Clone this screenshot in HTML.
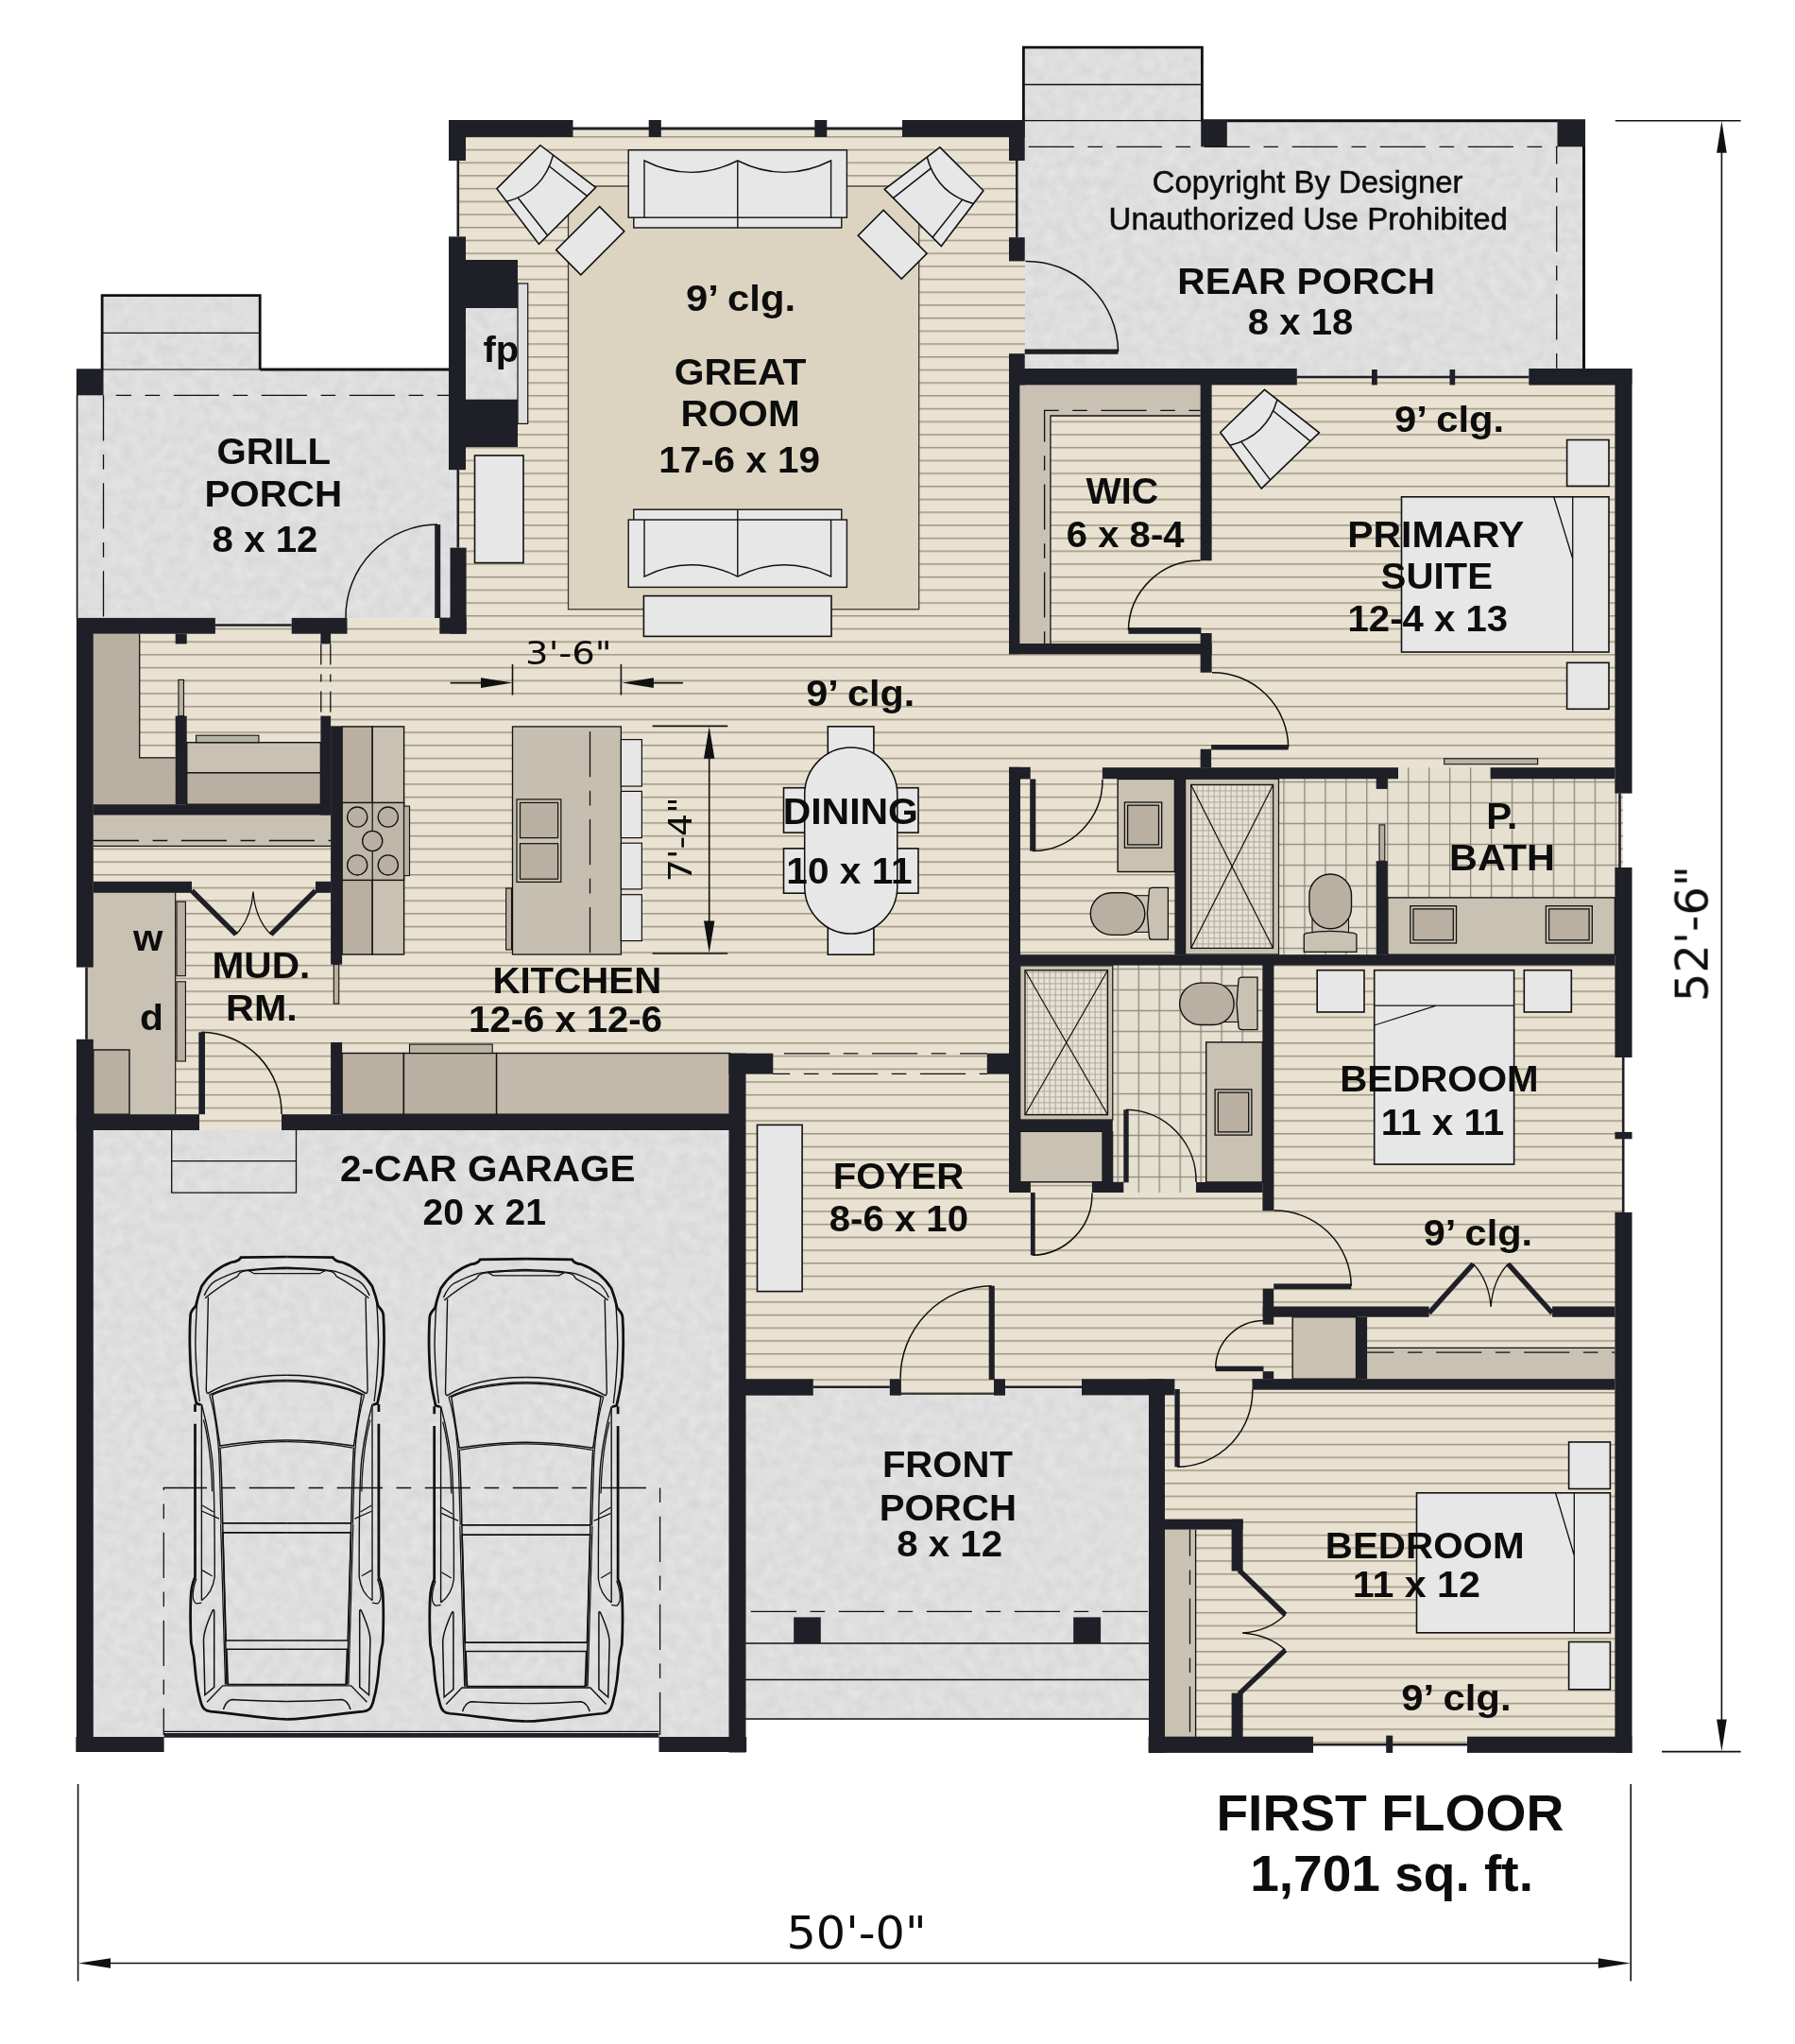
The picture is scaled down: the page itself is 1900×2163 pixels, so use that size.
<!DOCTYPE html>
<html lang="en"><head><meta charset="utf-8"><title>First Floor Plan</title>
<style>
html,body{margin:0;padding:0;background:#fff}
body{width:1900px;height:2163px;overflow:hidden;font-family:"Liberation Sans",sans-serif}
svg{display:block}
</style></head><body>
<svg width="1900" height="2163" viewBox="0 0 1900 2163">
<defs>
<pattern id="wood" x="0" y="7.073" width="40" height="13.7006" patternUnits="userSpaceOnUse">
<rect width="40" height="13.8" fill="#e9e2d2"/><rect y="0" width="40" height="1.5" fill="#9f957f"/></pattern>
<pattern id="tile" x="1358.3" y="826.8" width="21.96" height="22" patternUnits="userSpaceOnUse">
<rect width="22" height="22" fill="#e6e0d1"/><rect width="1.3" height="22" fill="#8d8779"/><rect width="22" height="1.3" fill="#8d8779"/></pattern>
<pattern id="mini" x="1260.7" y="830.4" width="6" height="6" patternUnits="userSpaceOnUse">
<rect width="6" height="6" fill="#e7e1d3"/><rect width="0.9" height="6" fill="#a9a395"/><rect width="6" height="0.9" fill="#a9a395"/></pattern>
<filter id="mottle" x="0" y="0" width="100%" height="100%" color-interpolation-filters="sRGB"><feTurbulence type="fractalNoise" baseFrequency="0.085" numOctaves="2" seed="7" result="n"/><feColorMatrix in="n" type="matrix" values="0.075 0 0 0 0.833  0.075 0 0 0 0.833  0.075 0 0 0 0.835  0 0 0 0 1" result="m"/><feComposite in="m" in2="SourceGraphic" operator="in"/></filter>
</defs>
<rect x="0" y="0" width="1900" height="2163" fill="#ffffff"/>
<rect x="81" y="390.5" width="403" height="264" fill="#dedede" filter="url(#mottle)"/>
<rect x="108" y="313" width="167" height="79" fill="#dedede" filter="url(#mottle)"/>
<rect x="1076" y="127" width="601" height="264" fill="#dedede" filter="url(#mottle)"/>
<rect x="1083.5" y="50.5" width="189" height="77.5" fill="#dedede" filter="url(#mottle)"/>
<rect x="98" y="1195" width="675" height="643.5" fill="#dedede" filter="url(#mottle)"/>
<rect x="788" y="1475" width="429" height="344.5" fill="#dedede" filter="url(#mottle)"/>
<rect x="493" y="325" width="55" height="99" fill="#dedede" filter="url(#mottle)"/>
<rect x="485" y="136" width="600" height="564" fill="url(#wood)"/>
<rect x="1076.5" y="170" width="8.5" height="81" fill="#dedede" filter="url(#mottle)"/>
<rect x="91" y="661" width="985" height="535" fill="url(#wood)"/>
<rect x="1068" y="398" width="650" height="632" fill="url(#wood)"/>
<rect x="789" y="1100" width="929" height="370" fill="url(#wood)"/>
<rect x="1336" y="1020" width="382" height="81" fill="url(#wood)"/>
<rect x="367.5" y="654.5" width="98.5" height="7.5" fill="url(#wood)"/>
<rect x="227.9" y="654" width="80.8" height="7.5" fill="#dedede" filter="url(#mottle)"/>
<rect x="1225" y="1460" width="493" height="387" fill="url(#wood)"/>
<rect x="953" y="1459" width="100" height="16.5" fill="url(#wood)"/>
<rect x="98" y="1196" width="674" height="4" fill="#dedede" filter="url(#mottle)"/>
<rect x="493" y="325" width="55" height="99" fill="#dedede" filter="url(#mottle)"/>
<rect x="1372.8" y="389" width="245.5" height="10" fill="#dedede" filter="url(#mottle)"/>
<rect x="860.8" y="1467.8" width="81" height="9.2" fill="#dedede" filter="url(#mottle)"/>
<rect x="1064" y="1467.8" width="81" height="9.2" fill="#dedede" filter="url(#mottle)"/>
<rect x="476" y="497" width="8.8" height="82.6" fill="#dedede" filter="url(#mottle)"/>
<rect x="601.5" y="197" width="371.2" height="447.8" fill="#dcd4c1" stroke="#3a372f" stroke-width="1.3"/>
<rect x="1353.5" y="824" width="361" height="186.5" fill="url(#tile)"/>
<rect x="1177.8" y="1021.5" width="158.8" height="240.5" fill="url(#tile)"/>
<rect x="1480" y="812.2" width="97.6" height="12.8" fill="url(#tile)"/>
<rect x="1254.6" y="824.2" width="98.9" height="185.8" fill="#c9c1b2" stroke="#111" stroke-width="1.2"/>
<rect x="1260.7" y="830.4" width="86.9" height="173" fill="url(#mini)" stroke="#111" stroke-width="1.3"/>
<line x1="1260.7" y1="830.4" x2="1347.6" y2="1003.4" stroke="#111" stroke-width="1.2"/>
<line x1="1260.7" y1="1003.4" x2="1347.6" y2="830.4" stroke="#111" stroke-width="1.2"/>
<rect x="1079.7" y="1021.9" width="98.1" height="163.1" fill="#c9c1b2" stroke="#111" stroke-width="1.2"/>
<rect x="1085" y="1026.7" width="87.5" height="153" fill="url(#mini)" stroke="#111" stroke-width="1.3"/>
<line x1="1085" y1="1026.7" x2="1172.5" y2="1179.7" stroke="#111" stroke-width="1.2"/>
<line x1="1085" y1="1179.7" x2="1172.5" y2="1026.7" stroke="#111" stroke-width="1.2"/>
<path d="M1079.4,407.4H1270.6V440H1112V681H1079.4Z" fill="#c9c1b2"/>
<path d="M1270.6,440H1112V681" fill="none" stroke="#111" stroke-width="1.3"/>
<path d="M1270.6,434.4H1105.6V681" fill="none" stroke="#111" stroke-width="1.3" stroke-dasharray="48.2 14.6 15.6 14.6" stroke-dashoffset="36"/>
<path d="M98.8,670.7H147.7V801.8H185.7V851.2H98.8Z" fill="#b9b0a1"/>
<path d="M147.7,670.7V801.8H185.7" fill="none" stroke="#111" stroke-width="1.3"/>
<rect x="188.9" y="719.4" width="5.6" height="38.2" fill="#b9b0a1" stroke="#111" stroke-width="1.1"/>
<rect x="197.7" y="785.7" width="141.7" height="32.1" fill="#c9c1b2" stroke="#111" stroke-width="1.4"/>
<rect x="197.7" y="817.8" width="141.7" height="33.4" fill="#b9b0a1" stroke="#111" stroke-width="1.4"/>
<rect x="207.6" y="778.2" width="66.3" height="7.5" fill="#b6b4a2" stroke="#111" stroke-width="1.1"/>
<rect x="98.8" y="862.5" width="251.3" height="32.8" fill="#c9c1b2"/>
<line x1="98.8" y1="895.3" x2="350.1" y2="895.3" stroke="#111" stroke-width="1.3"/>
<line x1="98.8" y1="889.5" x2="350.1" y2="889.5" stroke="#111" stroke-width="1.3" stroke-dasharray="48.2 14.6 15.6 14.6"/>
<rect x="91.5" y="944.8" width="94.2" height="234.4" fill="#c9c1b2"/>
<line x1="185.7" y1="944.8" x2="185.7" y2="1179.2" stroke="#111" stroke-width="1.2"/>
<rect x="98.8" y="1111" width="38.2" height="68.2" fill="#b9b0a1" stroke="#111" stroke-width="1.4"/>
<rect x="187" y="954.2" width="9.4" height="78.5" fill="#b9b0a1" stroke="#111" stroke-width="1.1"/>
<rect x="187" y="1038.8" width="9.4" height="84.2" fill="#b9b0a1" stroke="#111" stroke-width="1.1"/>
<rect x="362.1" y="768.9" width="32.1" height="241.1" fill="#b9b0a1" stroke="#111" stroke-width="1.4"/>
<rect x="394.2" y="768.9" width="33.4" height="241.1" fill="#c9c1b2" stroke="#111" stroke-width="1.4"/>
<rect x="362.1" y="849.4" width="65.5" height="82" fill="#bfb7a7" stroke="#111" stroke-width="1.4"/>
<line x1="394.2" y1="849.4" x2="394.2" y2="931.4" stroke="#111" stroke-width="1.2"/>
<rect x="427.6" y="853.1" width="5.9" height="73.5" fill="#b9b0a1" stroke="#111" stroke-width="1.1"/>
<circle cx="378.2" cy="864.6" r="10.6" fill="#b9b0a1" stroke="#111" stroke-width="1.3"/>
<circle cx="410.8" cy="864.6" r="10.6" fill="#b9b0a1" stroke="#111" stroke-width="1.3"/>
<circle cx="394.2" cy="890" r="10.6" fill="#b9b0a1" stroke="#111" stroke-width="1.3"/>
<circle cx="378.2" cy="915.4" r="10.6" fill="#b9b0a1" stroke="#111" stroke-width="1.3"/>
<circle cx="410.8" cy="915.4" r="10.6" fill="#b9b0a1" stroke="#111" stroke-width="1.3"/>
<rect x="542.5" y="768.9" width="114.9" height="241.1" fill="#c6beaf" stroke="#111" stroke-width="1.3"/>
<line x1="624.5" y1="774" x2="624.5" y2="1010" stroke="#111" stroke-width="1.3" stroke-dasharray="48.2 14.6 15.6 14.6"/>
<rect x="547" y="845.9" width="46.8" height="87.5" fill="#c9c1b2" stroke="#111" stroke-width="1.2"/>
<rect x="550.5" y="849.4" width="40.1" height="37.2" fill="#b9b0a1" stroke="#111" stroke-width="1.2"/>
<rect x="550.5" y="892.7" width="40.1" height="37.5" fill="#b9b0a1" stroke="#111" stroke-width="1.2"/>
<rect x="535.6" y="940" width="5.9" height="65" fill="#b9b0a1" stroke="#111" stroke-width="1.1"/>
<rect x="657.4" y="782.6" width="22" height="49.4" fill="#e7e7e7" stroke="#111" stroke-width="1.2"/>
<rect x="657.4" y="837.4" width="22" height="49.2" fill="#e7e7e7" stroke="#111" stroke-width="1.2"/>
<rect x="657.4" y="892.2" width="22" height="48.7" fill="#e7e7e7" stroke="#111" stroke-width="1.2"/>
<rect x="657.4" y="946.7" width="22" height="48.9" fill="#e7e7e7" stroke="#111" stroke-width="1.2"/>
<rect x="362.1" y="1114.5" width="65.3" height="64.7" fill="#b9b0a1" stroke="#111" stroke-width="1.4"/>
<rect x="427.4" y="1114.5" width="98.2" height="64.7" fill="#b9b0a1" stroke="#111" stroke-width="1.4"/>
<rect x="525.6" y="1114.5" width="247" height="64.7" fill="#c2b9aa" stroke="#111" stroke-width="1.4"/>
<rect x="433.5" y="1105.1" width="87.7" height="9.4" fill="#b8b5a2" stroke="#111" stroke-width="1.1"/>
<rect x="353.3" y="1020.6" width="5.4" height="41.5" fill="#b9b0a1" stroke="#111" stroke-width="1.1"/>
<rect x="1183.2" y="824.4" width="60.2" height="98.1" fill="#c9c1b2" stroke="#111" stroke-width="1.4"/>
<rect x="1190.4" y="849" width="39.3" height="48.1" fill="#c9c1b2" stroke="#111" stroke-width="1.3"/>
<rect x="1193.6" y="852.2" width="32.9" height="41.7" fill="#b9b0a1" stroke="#111" stroke-width="1.3"/>
<rect x="1199.8" y="947.7" width="18.6" height="38.7" fill="#c9c1b2" stroke="#111" stroke-width="1.1"/>
<rect x="1154.3" y="944.7" width="57.5" height="44.7" rx="22.35" ry="22.35" fill="#b9b0a1" stroke="#111" stroke-width="1.4"/>
<path d="M1216.4,942.4Q1216.4,939.4 1220.4,939.4H1236.4V994.2H1220.4Q1216.4,994.2 1216.4,991.2L1214.4,966.8Z" fill="#c9c1b2" stroke="#111" stroke-width="1.3"/>
<rect x="1294.1" y="1043.1" width="18.9" height="38.4" fill="#c9c1b2" stroke="#111" stroke-width="1.1"/>
<rect x="1248.7" y="1040.1" width="57.4" height="44.4" rx="22.2" ry="22.2" fill="#b9b0a1" stroke="#111" stroke-width="1.4"/>
<path d="M1311,1037.2Q1311,1034.2 1315,1034.2H1331V1089.6H1315Q1311,1089.6 1311,1086.6L1309,1061.9Z" fill="#c9c1b2" stroke="#111" stroke-width="1.3"/>
<rect x="1389" y="972" width="38.5" height="18" fill="#c9c1b2" stroke="#111" stroke-width="1.1"/>
<rect x="1385.9" y="925" width="44.6" height="57.8" rx="22.3" ry="22.3" fill="#b9b0a1" stroke="#111" stroke-width="1.4"/>
<path d="M1383.3,987.3Q1408,983.5 1432.9,987.3L1435.9,989V1007.4H1380.3V989Z" fill="#c9c1b2" stroke="#111" stroke-width="1.3"/>
<rect x="1468.8" y="949.9" width="240.6" height="60.3" fill="#c9c1b2" stroke="#111" stroke-width="1.4"/>
<rect x="1492.8" y="958.7" width="48.7" height="39.3" fill="#c9c1b2" stroke="#111" stroke-width="1.3"/>
<rect x="1496" y="961.9" width="42.3" height="32.9" fill="#b9b0a1" stroke="#111" stroke-width="1.3"/>
<rect x="1636.4" y="958.7" width="48.9" height="39.3" fill="#c9c1b2" stroke="#111" stroke-width="1.3"/>
<rect x="1639.6" y="961.9" width="42.5" height="32.9" fill="#b9b0a1" stroke="#111" stroke-width="1.3"/>
<rect x="1528.7" y="802.8" width="98.9" height="5.9" fill="#b8b4a3" stroke="#111" stroke-width="1.1"/>
<rect x="1460" y="872.9" width="5.8" height="38.2" fill="#b9b0a1" stroke="#111" stroke-width="1.1"/>
<rect x="1276.7" y="1102.9" width="59.7" height="148.1" fill="#c9c1b2" stroke="#111" stroke-width="1.4"/>
<rect x="1286.1" y="1152.9" width="38.8" height="48.2" fill="#c9c1b2" stroke="#111" stroke-width="1.3"/>
<rect x="1289.3" y="1156.1" width="32.4" height="41.8" fill="#b9b0a1" stroke="#111" stroke-width="1.3"/>
<rect x="1079.7" y="1197.3" width="87.4" height="53.5" fill="#c9c1b2" stroke="#111" stroke-width="1.4"/>
<rect x="1368.2" y="1393.7" width="67.4" height="65.5" fill="#c9c1b2" stroke="#111" stroke-width="1.4"/>
<rect x="1447.1" y="1426.3" width="262.3" height="32.9" fill="#c9c1b2"/>
<line x1="1447.1" y1="1426.3" x2="1709.4" y2="1426.3" stroke="#111" stroke-width="1.3"/>
<line x1="1447.1" y1="1431.1" x2="1709.4" y2="1431.1" stroke="#111" stroke-width="1.3" stroke-dasharray="48.2 14.6 15.6 14.6" stroke-dashoffset="20"/>
<rect x="1232.7" y="1618.6" width="32.9" height="219.4" fill="#c9c1b2"/>
<line x1="1265.6" y1="1618.6" x2="1265.6" y2="1838" stroke="#111" stroke-width="1.3"/>
<line x1="1259.5" y1="1618.6" x2="1259.5" y2="1838" stroke="#111" stroke-width="1.3" stroke-dasharray="48.2 14.6 15.6 14.6" stroke-dashoffset="20"/>
<g transform="translate(780.8,158.8)">
<rect x="-110" y="60" width="220" height="22.2" fill="#e7e7e7" stroke="#111" stroke-width="1.4"/>
<rect x="-115.6" y="0" width="231.2" height="71.4" fill="#e7e7e7" stroke="#111" stroke-width="1.4"/>
<path d="M-98.8,71.4V11.2Q-49.5,36 0,11.2Q49.5,36 98.8,11.2V71.4" fill="none" stroke="#111" stroke-width="1.4"/>
<path d="M0,11.2V82.2" fill="none" stroke="#111" stroke-width="1.4"/>
</g>
<g transform="translate(780.8,621.4) scale(1,-1)">
<rect x="-110" y="60" width="220" height="22.2" fill="#e7e7e7" stroke="#111" stroke-width="1.4"/>
<rect x="-115.6" y="0" width="231.2" height="71.4" fill="#e7e7e7" stroke="#111" stroke-width="1.4"/>
<path d="M-98.8,71.4V11.2Q-49.5,36 0,11.2Q49.5,36 98.8,11.2V71.4" fill="none" stroke="#111" stroke-width="1.4"/>
<path d="M0,11.2V82.2" fill="none" stroke="#111" stroke-width="1.4"/>
</g>
<rect x="681.4" y="630.6" width="198.6" height="42.8" fill="#e7e7e7" stroke="#111" stroke-width="1.6"/>
<rect x="502.5" y="482" width="51.5" height="113.6" fill="#e7e7e7" stroke="#111" stroke-width="1.6"/>
<rect x="548" y="300" width="10.7" height="148.4" fill="#dedede" stroke="#111" stroke-width="1.2"/>
<g transform="translate(548.9,176.7) rotate(-45)">
<polygon points="-32.5,0 32.5,0 42.5,73 -42.5,73" fill="#e7e7e7" stroke="#111" stroke-width="1.6"/>
<path d="M-34.8,17Q0,37 34.8,17" fill="none" stroke="#111" stroke-width="1.5"/>
<path d="M-23.5,22.5L-29.5,73M23.5,22.5L29.5,73" fill="none" stroke="#111" stroke-width="1.5"/>
</g>
<g transform="translate(624.7,254.7) rotate(45)">
<rect x="-18.5" y="-32.5" width="37" height="65" fill="#e7e7e7" stroke="#111" stroke-width="1.6"/>
</g>
<g transform="translate(1017.9,178.8) rotate(45)">
<polygon points="-32.5,0 32.5,0 42.5,73 -42.5,73" fill="#e7e7e7" stroke="#111" stroke-width="1.6"/>
<path d="M-34.8,17Q0,37 34.8,17" fill="none" stroke="#111" stroke-width="1.5"/>
<path d="M-23.5,22.5L-29.5,73M23.5,22.5L29.5,73" fill="none" stroke="#111" stroke-width="1.5"/>
</g>
<g transform="translate(944.7,258.7) rotate(45)">
<rect x="-32.5" y="-19" width="65" height="38" fill="#e7e7e7" stroke="#111" stroke-width="1.6"/>
</g>
<g transform="translate(1315.1,434.9) rotate(-44)">
<polygon points="-32.5,0 32.5,0 42.5,73 -42.5,73" fill="#e7e7e7" stroke="#111" stroke-width="1.6"/>
<path d="M-34.8,17Q0,37 34.8,17" fill="none" stroke="#111" stroke-width="1.5"/>
<path d="M-23.5,22.5L-29.5,73M23.5,22.5L29.5,73" fill="none" stroke="#111" stroke-width="1.5"/>
</g>
<rect x="1658.6" y="465.5" width="44.4" height="48.9" fill="#e7e7e7" stroke="#111" stroke-width="1.6"/>
<rect x="1658.6" y="701.3" width="44.4" height="49" fill="#e7e7e7" stroke="#111" stroke-width="1.6"/>
<rect x="1483.5" y="525.8" width="219.5" height="164.2" fill="#e7e7e7" stroke="#111" stroke-width="1.6"/>
<path d="M1664.7,525.8V690M1644.7,525.8L1664.7,591.2" fill="none" stroke="#111" stroke-width="1.3"/>
<rect x="1394.2" y="1026.7" width="49.8" height="44.3" fill="#e7e7e7" stroke="#111" stroke-width="1.6"/>
<rect x="1613.3" y="1026.7" width="50" height="44.3" fill="#e7e7e7" stroke="#111" stroke-width="1.6"/>
<rect x="1454.7" y="1026.7" width="147.9" height="205.4" fill="#e7e7e7" stroke="#111" stroke-width="1.6"/>
<path d="M1454.7,1064.2H1602.6M1454.7,1085L1520.3,1064.2" fill="none" stroke="#111" stroke-width="1.3"/>
<rect x="1660.6" y="1526" width="43.8" height="49.5" fill="#e7e7e7" stroke="#111" stroke-width="1.6"/>
<rect x="1660.6" y="1737.5" width="43.8" height="50.3" fill="#e7e7e7" stroke="#111" stroke-width="1.6"/>
<rect x="1499.5" y="1579.8" width="204.9" height="148" fill="#e7e7e7" stroke="#111" stroke-width="1.6"/>
<path d="M1666.3,1579.8V1727.8M1646.5,1579.8L1666.3,1646" fill="none" stroke="#111" stroke-width="1.3"/>
<rect x="801.5" y="1190.4" width="47.6" height="176.2" fill="#e7e7e7" stroke="#111" stroke-width="1.6"/>
<rect x="876.3" y="768.8" width="48.6" height="31.2" fill="#e7e7e7" stroke="#111" stroke-width="1.6"/>
<rect x="876.3" y="980" width="48.6" height="30.2" fill="#e7e7e7" stroke="#111" stroke-width="1.6"/>
<rect x="829.5" y="833.7" width="30.5" height="47.4" fill="#e7e7e7" stroke="#111" stroke-width="1.6"/>
<rect x="829.5" y="897.9" width="30.5" height="47.3" fill="#e7e7e7" stroke="#111" stroke-width="1.6"/>
<rect x="942" y="833.7" width="30" height="47.4" fill="#e7e7e7" stroke="#111" stroke-width="1.6"/>
<rect x="942" y="897.9" width="30" height="47.3" fill="#e7e7e7" stroke="#111" stroke-width="1.6"/>
<rect x="851.7" y="791" width="98.1" height="197" rx="49" ry="50" fill="#e7e7e7" stroke="#111" stroke-width="1.5"/>
<path d="M108.1,391V312.7H275.2V391" fill="none" stroke="#111" stroke-width="2.8"/>
<line x1="108.1" y1="352.3" x2="275.2" y2="352.3" stroke="#111" stroke-width="1.3"/>
<line x1="108.1" y1="391" x2="275.2" y2="391" stroke="#111" stroke-width="1.2"/>
<line x1="275.2" y1="391" x2="476" y2="391" stroke="#111" stroke-width="3"/>
<line x1="81.6" y1="418" x2="81.6" y2="654" stroke="#111" stroke-width="1.6"/>
<line x1="122.8" y1="418.3" x2="476" y2="418.3" stroke="#111" stroke-width="1.3" stroke-dasharray="48.2 14.6 15.6 14.6" stroke-dashoffset="32"/>
<line x1="109.5" y1="418.3" x2="109.5" y2="654" stroke="#111" stroke-width="1.3" stroke-dasharray="48.2 14.6 15.6 14.6"/>
<path d="M1083.4,127.7V50.2H1272.4V127.7" fill="none" stroke="#111" stroke-width="2.8"/>
<line x1="1083.4" y1="89.5" x2="1272.4" y2="89.5" stroke="#111" stroke-width="1.3"/>
<line x1="1084.7" y1="127.7" x2="1272.4" y2="127.7" stroke="#111" stroke-width="1.2"/>
<line x1="1272" y1="127.7" x2="1678" y2="127.7" stroke="#111" stroke-width="3"/>
<line x1="1676.5" y1="155" x2="1676.5" y2="391" stroke="#111" stroke-width="3"/>
<line x1="1088.7" y1="155.3" x2="1648.5" y2="155.3" stroke="#111" stroke-width="1.3" stroke-dasharray="48.2 14.6 15.6 14.6" stroke-dashoffset="0"/>
<line x1="1647.7" y1="155.3" x2="1647.7" y2="391" stroke="#111" stroke-width="1.3" stroke-dasharray="48.2 14.6 15.6 14.6" stroke-dashoffset="30"/>
<line x1="794.8" y1="1705.3" x2="1216" y2="1705.3" stroke="#111" stroke-width="1.3" stroke-dasharray="48.2 14.6 15.6 14.6"/>
<line x1="789" y1="1739" x2="1216" y2="1739" stroke="#111" stroke-width="1.4"/>
<line x1="789" y1="1777.5" x2="1216" y2="1777.5" stroke="#111" stroke-width="1.3"/>
<line x1="789" y1="1819" x2="1216" y2="1819" stroke="#111" stroke-width="1.3"/>
<path d="M181.7,1196V1262.1H313.5V1196" fill="none" stroke="#111" stroke-width="1.3"/>
<line x1="181.7" y1="1228.7" x2="313.5" y2="1228.7" stroke="#111" stroke-width="1.3"/>
<path d="M173.3,1836V1574.5H698.6V1836" fill="none" stroke="#111" stroke-width="1.3" stroke-dasharray="48.2 14.6 15.6 14.6" stroke-dashoffset="20"/>
<line x1="173.6" y1="1836.4" x2="697.5" y2="1836.4" stroke="#1f1f27" stroke-width="4.6"/>
<line x1="173.6" y1="1832.3" x2="697.5" y2="1832.3" stroke="#111" stroke-width="1.2"/>
<line x1="818" y1="1114.9" x2="1045" y2="1114.9" stroke="#111" stroke-width="1.3" stroke-dasharray="48.2 14.6 15.6 14.6" stroke-dashoffset="-12"/>
<line x1="818" y1="1136.4" x2="1045" y2="1136.4" stroke="#111" stroke-width="1.3" stroke-dasharray="48.2 14.6 15.6 14.6" stroke-dashoffset="30"/>
<line x1="339.8" y1="681.4" x2="339.8" y2="757.6" stroke="#111" stroke-width="1.3" stroke-dasharray="22 10 8 10"/>
<line x1="349.8" y1="681.4" x2="349.8" y2="757.6" stroke="#111" stroke-width="1.3" stroke-dasharray="22 10 8 10"/>
<rect x="475" y="127" width="131.5" height="18" fill="#1f1f27"/>
<rect x="475" y="127" width="18" height="43" fill="#1f1f27"/>
<rect x="475" y="250.4" width="18" height="246.8" fill="#1f1f27"/>
<rect x="493" y="275" width="55" height="51" fill="#1f1f27"/>
<rect x="493" y="422.7" width="55" height="50.3" fill="#1f1f27"/>
<rect x="476.5" y="579.6" width="17.1" height="91.1" fill="#1f1f27"/>
<rect x="465.3" y="653.6" width="28.3" height="17.1" fill="#1f1f27"/>
<rect x="686.7" y="127" width="13.1" height="18" fill="#1f1f27"/>
<rect x="862.3" y="127" width="13" height="18" fill="#1f1f27"/>
<rect x="955" y="127" width="129.7" height="18" fill="#1f1f27"/>
<rect x="1068" y="127" width="16.7" height="43" fill="#1f1f27"/>
<rect x="1068" y="251.2" width="16.7" height="25.2" fill="#1f1f27"/>
<rect x="1068" y="374.2" width="16.7" height="33.2" fill="#1f1f27"/>
<rect x="1068" y="390" width="304.8" height="17.4" fill="#1f1f27"/>
<rect x="1068" y="390" width="11.4" height="302.2" fill="#1f1f27"/>
<rect x="1068" y="681" width="214.6" height="11.2" fill="#1f1f27"/>
<rect x="1270.6" y="407" width="12" height="186.3" fill="#1f1f27"/>
<rect x="1270.6" y="670" width="12" height="41.7" fill="#1f1f27"/>
<rect x="1618.3" y="390" width="109.1" height="17.5" fill="#1f1f27"/>
<rect x="1709.4" y="390" width="18.1" height="449.6" fill="#1f1f27"/>
<rect x="1709.4" y="918" width="18.1" height="201" fill="#1f1f27"/>
<rect x="1709.4" y="1282.9" width="18.1" height="572.1" fill="#1f1f27"/>
<rect x="1452" y="391" width="5.8" height="16.4" fill="#1f1f27"/>
<rect x="1534.5" y="391" width="5.7" height="16.4" fill="#1f1f27"/>
<rect x="1068" y="811.8" width="22.7" height="12.6" fill="#1f1f27"/>
<rect x="1166.9" y="812.2" width="313.1" height="12" fill="#1f1f27"/>
<rect x="1577.6" y="812.2" width="131.8" height="12" fill="#1f1f27"/>
<rect x="1068" y="811.8" width="12" height="450.2" fill="#1f1f27"/>
<rect x="1243.4" y="824" width="11.2" height="186.5" fill="#1f1f27"/>
<rect x="1080" y="1010.2" width="629.4" height="11.3" fill="#1f1f27"/>
<rect x="1456.7" y="911.1" width="12.1" height="99.4" fill="#1f1f27"/>
<rect x="1456.7" y="824" width="12.1" height="10.9" fill="#1f1f27"/>
<rect x="1270.6" y="792.7" width="11.5" height="19.7" fill="#1f1f27"/>
<rect x="1080" y="1185" width="97.8" height="12.3" fill="#1f1f27"/>
<rect x="1167.1" y="1197" width="11.2" height="65" fill="#1f1f27"/>
<rect x="1068" y="1250.8" width="22.9" height="11.2" fill="#1f1f27"/>
<rect x="1155.9" y="1250.8" width="33.4" height="11.2" fill="#1f1f27"/>
<rect x="1266" y="1251" width="70.4" height="11" fill="#1f1f27"/>
<rect x="1336.4" y="1021" width="12" height="260.3" fill="#1f1f27"/>
<rect x="1336.7" y="1363.7" width="11.5" height="38" fill="#1f1f27"/>
<rect x="1336.7" y="1382.5" width="175.9" height="11.2" fill="#1f1f27"/>
<rect x="1643.1" y="1382.5" width="66.3" height="11.2" fill="#1f1f27"/>
<rect x="1435.6" y="1393.7" width="11.5" height="65.5" fill="#1f1f27"/>
<rect x="1336.7" y="1451.2" width="11.5" height="8" fill="#1f1f27"/>
<rect x="1325.5" y="1459.2" width="383.9" height="11.5" fill="#1f1f27"/>
<rect x="1709.4" y="1197.9" width="18.1" height="7.4" fill="#1f1f27"/>
<rect x="1216" y="1459.3" width="17" height="395.7" fill="#1f1f27"/>
<rect x="1145" y="1459.3" width="98.4" height="17.1" fill="#1f1f27"/>
<rect x="1232.7" y="1607.6" width="82.9" height="11" fill="#1f1f27"/>
<rect x="1303.6" y="1607.6" width="12" height="54.9" fill="#1f1f27"/>
<rect x="1303.6" y="1791.6" width="12" height="46.4" fill="#1f1f27"/>
<rect x="1215.6" y="1837.7" width="174.4" height="17.2" fill="#1f1f27"/>
<rect x="1553" y="1837.7" width="174.4" height="17.2" fill="#1f1f27"/>
<rect x="1467.2" y="1836.6" width="7" height="18.3" fill="#1f1f27"/>
<rect x="771.5" y="1114.7" width="18" height="739.8" fill="#1f1f27"/>
<rect x="771.5" y="1114.7" width="46.8" height="21.9" fill="#1f1f27"/>
<rect x="1044.8" y="1114.7" width="23.4" height="21.9" fill="#1f1f27"/>
<rect x="788.9" y="1459.3" width="71.9" height="17.4" fill="#1f1f27"/>
<rect x="941.8" y="1459.3" width="12.1" height="17.4" fill="#1f1f27"/>
<rect x="1052" y="1459.3" width="12" height="17.4" fill="#1f1f27"/>
<rect x="80.9" y="654" width="17.9" height="369.6" fill="#1f1f27"/>
<rect x="80.9" y="1099.8" width="17.9" height="754.2" fill="#1f1f27"/>
<rect x="80.9" y="1179.2" width="130.1" height="16.8" fill="#1f1f27"/>
<rect x="298" y="1179.2" width="474.6" height="16.8" fill="#1f1f27"/>
<rect x="80.4" y="1838" width="93.2" height="16" fill="#1f1f27"/>
<rect x="697.5" y="1838" width="92.7" height="16" fill="#1f1f27"/>
<rect x="81" y="653.9" width="146.9" height="16.8" fill="#1f1f27"/>
<rect x="308.7" y="653.9" width="58.8" height="16.8" fill="#1f1f27"/>
<rect x="185.7" y="670.7" width="12" height="10.7" fill="#1f1f27"/>
<rect x="339.4" y="670" width="10.7" height="11.4" fill="#1f1f27"/>
<rect x="185.7" y="757.6" width="12" height="93.6" fill="#1f1f27"/>
<rect x="339.4" y="757.6" width="10.7" height="104.9" fill="#1f1f27"/>
<rect x="350.1" y="768.3" width="12" height="252.3" fill="#1f1f27"/>
<rect x="98.8" y="851.2" width="251.3" height="11.3" fill="#1f1f27"/>
<rect x="98.8" y="932.8" width="104.2" height="12" fill="#1f1f27"/>
<rect x="334" y="932.8" width="16.1" height="12" fill="#1f1f27"/>
<rect x="350.1" y="1103" width="12" height="76.2" fill="#1f1f27"/>
<rect x="80.9" y="390.3" width="28.6" height="28" fill="#1f1f27"/>
<rect x="1271.2" y="127" width="27.6" height="28.3" fill="#1f1f27"/>
<rect x="1648.5" y="127" width="29.5" height="28.3" fill="#1f1f27"/>
<rect x="840.2" y="1711.4" width="28.6" height="27.6" fill="#1f1f27"/>
<rect x="1136.2" y="1711.4" width="28.9" height="27.6" fill="#1f1f27"/>
<line x1="606" y1="135.9" x2="955" y2="135.9" stroke="#1f1f27" stroke-width="3"/>
<line x1="484.8" y1="170" x2="484.8" y2="250.4" stroke="#1f1f27" stroke-width="2.6"/>
<line x1="484.8" y1="497" x2="484.8" y2="579.6" stroke="#1f1f27" stroke-width="2.6"/>
<line x1="1076.3" y1="170" x2="1076.3" y2="251.2" stroke="#1f1f27" stroke-width="2.6"/>
<line x1="1372.8" y1="399" x2="1618.3" y2="399" stroke="#1f1f27" stroke-width="2.6"/>
<line x1="1714.5" y1="839.6" x2="1714.5" y2="918" stroke="#1f1f27" stroke-width="2.6"/>
<line x1="1718.2" y1="1119" x2="1718.2" y2="1282.9" stroke="#1f1f27" stroke-width="2.6"/>
<line x1="1390" y1="1846.3" x2="1553" y2="1846.3" stroke="#1f1f27" stroke-width="2.6"/>
<line x1="860.8" y1="1467.8" x2="941.8" y2="1467.8" stroke="#1f1f27" stroke-width="2.6"/>
<line x1="1064" y1="1467.8" x2="1145" y2="1467.8" stroke="#1f1f27" stroke-width="2.6"/>
<line x1="227.9" y1="661.5" x2="308.7" y2="661.5" stroke="#1f1f27" stroke-width="2.6"/>
<line x1="91.5" y1="1023.6" x2="91.5" y2="1099.8" stroke="#1f1f27" stroke-width="2.6"/>
<line x1="953.9" y1="1475" x2="1052" y2="1475" stroke="#111" stroke-width="1.3"/>
<rect x="460.2" y="555" width="6" height="99" fill="#1f1f27"/>
<path d="M463,555A97.5,97.5 0 0 0 366,654" fill="none" stroke="#111" stroke-width="1.5"/>
<rect x="1084.7" y="369.5" width="98.9" height="5.3" fill="#1f1f27"/>
<path d="M1183.6,372A97,97 0 0 0 1085.5,276.4" fill="none" stroke="#111" stroke-width="1.5"/>
<rect x="1194.4" y="664.1" width="77" height="6.7" fill="#1f1f27"/>
<path d="M1194.4,667A75,75 0 0 1 1270.6,593.3" fill="none" stroke="#111" stroke-width="1.5"/>
<rect x="1282.1" y="788.1" width="81.6" height="5.4" fill="#1f1f27"/>
<path d="M1363.7,790.8A80,80 0 0 0 1283,711.7" fill="none" stroke="#111" stroke-width="1.5"/>
<rect x="1090.2" y="824.4" width="6.1" height="76.2" fill="#1f1f27"/>
<path d="M1093,900.6A75,75 0 0 0 1167,824.8" fill="none" stroke="#111" stroke-width="1.5"/>
<rect x="1189.3" y="1174.3" width="5.4" height="77" fill="#1f1f27"/>
<path d="M1192,1174.3A75,75 0 0 1 1266,1251" fill="none" stroke="#111" stroke-width="1.5"/>
<rect x="1090.9" y="1262" width="4.8" height="66.3" fill="#1f1f27"/>
<path d="M1093,1328.3A64.5,64.5 0 0 0 1155.9,1262.5" fill="none" stroke="#111" stroke-width="1.5"/>
<rect x="1348.2" y="1358.4" width="82.1" height="5.9" fill="#1f1f27"/>
<path d="M1430.3,1361A81,81 0 0 0 1348.5,1281" fill="none" stroke="#111" stroke-width="1.5"/>
<rect x="1286.7" y="1445.8" width="50.8" height="5.4" fill="#1f1f27"/>
<path d="M1286.7,1448A51,51 0 0 1 1337.5,1397.5" fill="none" stroke="#111" stroke-width="1.5"/>
<rect x="1243.4" y="1470" width="5.4" height="82.3" fill="#1f1f27"/>
<path d="M1246,1552.3A80.5,80.5 0 0 0 1325.8,1470.5" fill="none" stroke="#111" stroke-width="1.5"/>
<rect x="1046.7" y="1360.7" width="6.1" height="99.3" fill="#1f1f27"/>
<path d="M1049.5,1360.7A97.5,97.5 0 0 0 953.1,1459" fill="none" stroke="#111" stroke-width="1.5"/>
<rect x="210.3" y="1092.3" width="6.7" height="86.9" fill="#1f1f27"/>
<path d="M213.5,1092.3A85.5,85.5 0 0 1 298,1179" fill="none" stroke="#111" stroke-width="1.5"/>
<path d="M203,942.5L249.8,988.9M334,942.5L286.7,988.9" fill="none" stroke="#1f1f27" stroke-width="5.4"/>
<path d="M249.8,988.9Q266,972 268,943.5Q270,972 286.7,988.9" fill="none" stroke="#111" stroke-width="1.3"/>
<path d="M1512.6,1389.5L1559.4,1337.5M1643.1,1389.5L1596.3,1337.5" fill="none" stroke="#1f1f27" stroke-width="5.4"/>
<path d="M1559.4,1337.5Q1576,1355 1578.1,1383Q1580,1355 1596.3,1337.5" fill="none" stroke="#111" stroke-width="1.3"/>
<path d="M1311.5,1661.5L1360.5,1708.7M1311.5,1792.6L1360.5,1746.1" fill="none" stroke="#1f1f27" stroke-width="5.4"/>
<path d="M1360.5,1708.7Q1343,1726 1315,1728Q1343,1730 1360.5,1746.1" fill="none" stroke="#111" stroke-width="1.3"/>
<g transform="translate(201,1330) scale(1,0.9935)">
<path d="M102.7,0 L54,0.6 Q52,4.8 44,5.8 Q24,13 12.4,31.5 Q8.5,42 6.2,52.4 Q0.8,58 0.6,62 Q-1.2,88 1.3,126 Q3.5,142 6.9,156.2 L11.7,157.6" fill="none" stroke="#101010" stroke-width="2.75"/>
<path d="M102.7,0 L54,0.6 Q52,4.8 44,5.8 Q24,13 12.4,31.5 Q8.5,42 6.2,52.4 Q0.8,58 0.6,62 Q-1.2,88 1.3,126 Q3.5,142 6.9,156.2 L11.7,157.6" fill="none" stroke="#101010" stroke-width="2.75" transform="translate(205.4,0) scale(-1,1)"/>
<path d="M5.5,157 V165 M5.5,178 V341 Q1.5,350 1,362 Q0,385 1.3,411 Q4.8,425 5.5,439 C6.5,452 8,462 11.7,475 C13.5,481 16,483.5 22,484.2 C45,486 80,492.5 102.7,492.5" fill="none" stroke="#101010" stroke-width="2.75"/>
<path d="M5.5,157 V165 M5.5,178 V341 Q1.5,350 1,362 Q0,385 1.3,411 Q4.8,425 5.5,439 C6.5,452 8,462 11.7,475 C13.5,481 16,483.5 22,484.2 C45,486 80,492.5 102.7,492.5" fill="none" stroke="#101010" stroke-width="2.75" transform="translate(205.4,0) scale(-1,1)"/>
<path d="M8.2,42.7 Q6.5,60 5.8,91 Q6.5,126 10.3,154" fill="none" stroke="#101010" stroke-width="1.38"/>
<path d="M8.2,42.7 Q6.5,60 5.8,91 Q6.5,126 10.3,154" fill="none" stroke="#101010" stroke-width="1.38" transform="translate(205.4,0) scale(-1,1)"/>
<path d="M12.4,158 V366" fill="none" stroke="#101010" stroke-width="1.38"/>
<path d="M12.4,158 V366" fill="none" stroke="#101010" stroke-width="1.38" transform="translate(205.4,0) scale(-1,1)"/>
<path d="M15.2,41.3 Q20,30 26.4,26 Q40,19 51.4,15.5 Q65,12.8 102.7,11.3" fill="none" stroke="#101010" stroke-width="1.38"/>
<path d="M15.2,41.3 Q20,30 26.4,26 Q40,19 51.4,15.5 Q65,12.8 102.7,11.3" fill="none" stroke="#101010" stroke-width="1.38" transform="translate(205.4,0) scale(-1,1)"/>
<path d="M16,44 Q33,30 50,21 L52.5,17.5 Q56,14.5 62.6,14.8 Q80,12.6 102.7,12.6" fill="none" stroke="#101010" stroke-width="1.38"/>
<path d="M16,44 Q33,30 50,21 L52.5,17.5 Q56,14.5 62.6,14.8 Q80,12.6 102.7,12.6" fill="none" stroke="#101010" stroke-width="1.38" transform="translate(205.4,0) scale(-1,1)"/>
<path d="M62.6,14.8 L68,17.8 H102.7" fill="none" stroke="#101010" stroke-width="1.25"/>
<path d="M62.6,14.8 L68,17.8 H102.7" fill="none" stroke="#101010" stroke-width="1.25" transform="translate(205.4,0) scale(-1,1)"/>
<path d="M19.4,42.7 L17.3,141.6 Q17.5,145 18.7,145.7" fill="none" stroke="#101010" stroke-width="1.38"/>
<path d="M19.4,42.7 L17.3,141.6 Q17.5,145 18.7,145.7" fill="none" stroke="#101010" stroke-width="1.38" transform="translate(205.4,0) scale(-1,1)"/>
<path d="M18.7,145.7 Q50,126 102.7,126" fill="none" stroke="#101010" stroke-width="1.5"/>
<path d="M18.7,145.7 Q50,126 102.7,126" fill="none" stroke="#101010" stroke-width="1.50" transform="translate(205.4,0) scale(-1,1)"/>
<path d="M20.8,147.1 Q55,131.3 102.7,131.3" fill="none" stroke="#101010" stroke-width="1.5"/>
<path d="M20.8,147.1 Q55,131.3 102.7,131.3" fill="none" stroke="#101010" stroke-width="1.50" transform="translate(205.4,0) scale(-1,1)"/>
<path d="M23.6,147.1 Q55,133 102.7,132.7" fill="none" stroke="#101010" stroke-width="1.25"/>
<path d="M23.6,147.1 Q55,133 102.7,132.7" fill="none" stroke="#101010" stroke-width="1.25" transform="translate(205.4,0) scale(-1,1)"/>
<path d="M23.6,147.1 L31.9,201.4 Q70,195.2 102.7,195.2" fill="none" stroke="#101010" stroke-width="1.5"/>
<path d="M23.6,147.1 L31.9,201.4 Q70,195.2 102.7,195.2" fill="none" stroke="#101010" stroke-width="1.50" transform="translate(205.4,0) scale(-1,1)"/>
<path d="M33,203.5 Q70,197 102.7,197" fill="none" stroke="#101010" stroke-width="1.25"/>
<path d="M33,203.5 Q70,197 102.7,197" fill="none" stroke="#101010" stroke-width="1.25" transform="translate(205.4,0) scale(-1,1)"/>
<path d="M12.4,156.9 Q20,185 23.5,215 Q26.4,240 26.2,341 Q24,358 12.4,366" fill="none" stroke="#101010" stroke-width="1.38"/>
<path d="M12.4,156.9 Q20,185 23.5,215 Q26.4,240 26.2,341 Q24,358 12.4,366" fill="none" stroke="#101010" stroke-width="1.38" transform="translate(205.4,0) scale(-1,1)"/>
<path d="M14.5,173.6 Q22.5,205 23.6,250" fill="none" stroke="#101010" stroke-width="1.25"/>
<path d="M14.5,173.6 Q22.5,205 23.6,250" fill="none" stroke="#101010" stroke-width="1.25" transform="translate(205.4,0) scale(-1,1)"/>
<path d="M31.9,202.8 Q33.5,225 34.7,283.6 L38.9,455.6" fill="none" stroke="#101010" stroke-width="1.5"/>
<path d="M31.9,202.8 Q33.5,225 34.7,283.6 L38.9,455.6" fill="none" stroke="#101010" stroke-width="1.50" transform="translate(205.4,0) scale(-1,1)"/>
<path d="M20.8,147.1 Q29,175 31,215 L33,284" fill="none" stroke="#101010" stroke-width="1.25"/>
<path d="M20.8,147.1 Q29,175 31,215 L33,284" fill="none" stroke="#101010" stroke-width="1.25" transform="translate(205.4,0) scale(-1,1)"/>
<path d="M34.7,283.6 H102.7" fill="none" stroke="#101010" stroke-width="1.75"/>
<path d="M34.7,283.6 H102.7" fill="none" stroke="#101010" stroke-width="1.75" transform="translate(205.4,0) scale(-1,1)"/>
<path d="M102.7,293.8 H34.9 L38.2,408.6 H102.7" fill="none" stroke="#101010" stroke-width="1.62"/>
<path d="M102.7,293.8 H34.9 L38.2,408.6 H102.7" fill="none" stroke="#101010" stroke-width="1.62" transform="translate(205.4,0) scale(-1,1)"/>
<path d="M102.7,418 H38.9 L40.3,455.4 H102.7" fill="none" stroke="#101010" stroke-width="1.62"/>
<path d="M102.7,418 H38.9 L40.3,455.4 H102.7" fill="none" stroke="#101010" stroke-width="1.62" transform="translate(205.4,0) scale(-1,1)"/>
<path d="M32.6,284.3 L37.5,455.6" fill="none" stroke="#101010" stroke-width="1.25"/>
<path d="M32.6,284.3 L37.5,455.6" fill="none" stroke="#101010" stroke-width="1.25" transform="translate(205.4,0) scale(-1,1)"/>
<path d="M102.7,456.8 H34.7 L18,474.4" fill="none" stroke="#101010" stroke-width="1.38"/>
<path d="M102.7,456.8 H34.7 L18,474.4" fill="none" stroke="#101010" stroke-width="1.38" transform="translate(205.4,0) scale(-1,1)"/>
<path d="M35.4,482.1 Q38,473 44.5,471.6 Q75,473.5 102.7,473.5" fill="none" stroke="#101010" stroke-width="1.5"/>
<path d="M35.4,482.1 Q38,473 44.5,471.6 Q75,473.5 102.7,473.5" fill="none" stroke="#101010" stroke-width="1.50" transform="translate(205.4,0) scale(-1,1)"/>
<path d="M24.3,376.2 Q14.5,398 14.5,408.3 L15.9,466.8 L25.7,458.4 V378 Q25.7,375 24.3,376.2" fill="none" stroke="#101010" stroke-width="1.5"/>
<path d="M24.3,376.2 Q14.5,398 14.5,408.3 L15.9,466.8 L25.7,458.4 V378 Q25.7,375 24.3,376.2" fill="none" stroke="#101010" stroke-width="1.50" transform="translate(205.4,0) scale(-1,1)"/>
<path d="M13.1,264.8 L25,271.8 M13.1,271 L31,279 M13.1,333.8 L23.6,340" fill="none" stroke="#101010" stroke-width="1.25"/>
<path d="M13.1,264.8 L25,271.8 M13.1,271 L31,279 M13.1,333.8 L23.6,340" fill="none" stroke="#101010" stroke-width="1.25" transform="translate(205.4,0) scale(-1,1)"/>
<path d="M6.9,342.8 Q2.5,355 3.4,363.7 Q5,369.5 7.6,369.3 L12.4,368.6" fill="none" stroke="#101010" stroke-width="1.25"/>
<path d="M6.9,342.8 Q2.5,355 3.4,363.7 Q5,369.5 7.6,369.3 L12.4,368.6" fill="none" stroke="#101010" stroke-width="1.25" transform="translate(205.4,0) scale(-1,1)"/>
</g>
<g transform="translate(454.2,1332.2) scale(1,0.9935)">
<path d="M102.7,0 L54,0.6 Q52,4.8 44,5.8 Q24,13 12.4,31.5 Q8.5,42 6.2,52.4 Q0.8,58 0.6,62 Q-1.2,88 1.3,126 Q3.5,142 6.9,156.2 L11.7,157.6" fill="none" stroke="#101010" stroke-width="2.75"/>
<path d="M102.7,0 L54,0.6 Q52,4.8 44,5.8 Q24,13 12.4,31.5 Q8.5,42 6.2,52.4 Q0.8,58 0.6,62 Q-1.2,88 1.3,126 Q3.5,142 6.9,156.2 L11.7,157.6" fill="none" stroke="#101010" stroke-width="2.75" transform="translate(205.4,0) scale(-1,1)"/>
<path d="M5.5,157 V165 M5.5,178 V341 Q1.5,350 1,362 Q0,385 1.3,411 Q4.8,425 5.5,439 C6.5,452 8,462 11.7,475 C13.5,481 16,483.5 22,484.2 C45,486 80,492.5 102.7,492.5" fill="none" stroke="#101010" stroke-width="2.75"/>
<path d="M5.5,157 V165 M5.5,178 V341 Q1.5,350 1,362 Q0,385 1.3,411 Q4.8,425 5.5,439 C6.5,452 8,462 11.7,475 C13.5,481 16,483.5 22,484.2 C45,486 80,492.5 102.7,492.5" fill="none" stroke="#101010" stroke-width="2.75" transform="translate(205.4,0) scale(-1,1)"/>
<path d="M8.2,42.7 Q6.5,60 5.8,91 Q6.5,126 10.3,154" fill="none" stroke="#101010" stroke-width="1.38"/>
<path d="M8.2,42.7 Q6.5,60 5.8,91 Q6.5,126 10.3,154" fill="none" stroke="#101010" stroke-width="1.38" transform="translate(205.4,0) scale(-1,1)"/>
<path d="M12.4,158 V366" fill="none" stroke="#101010" stroke-width="1.38"/>
<path d="M12.4,158 V366" fill="none" stroke="#101010" stroke-width="1.38" transform="translate(205.4,0) scale(-1,1)"/>
<path d="M15.2,41.3 Q20,30 26.4,26 Q40,19 51.4,15.5 Q65,12.8 102.7,11.3" fill="none" stroke="#101010" stroke-width="1.38"/>
<path d="M15.2,41.3 Q20,30 26.4,26 Q40,19 51.4,15.5 Q65,12.8 102.7,11.3" fill="none" stroke="#101010" stroke-width="1.38" transform="translate(205.4,0) scale(-1,1)"/>
<path d="M16,44 Q33,30 50,21 L52.5,17.5 Q56,14.5 62.6,14.8 Q80,12.6 102.7,12.6" fill="none" stroke="#101010" stroke-width="1.38"/>
<path d="M16,44 Q33,30 50,21 L52.5,17.5 Q56,14.5 62.6,14.8 Q80,12.6 102.7,12.6" fill="none" stroke="#101010" stroke-width="1.38" transform="translate(205.4,0) scale(-1,1)"/>
<path d="M62.6,14.8 L68,17.8 H102.7" fill="none" stroke="#101010" stroke-width="1.25"/>
<path d="M62.6,14.8 L68,17.8 H102.7" fill="none" stroke="#101010" stroke-width="1.25" transform="translate(205.4,0) scale(-1,1)"/>
<path d="M19.4,42.7 L17.3,141.6 Q17.5,145 18.7,145.7" fill="none" stroke="#101010" stroke-width="1.38"/>
<path d="M19.4,42.7 L17.3,141.6 Q17.5,145 18.7,145.7" fill="none" stroke="#101010" stroke-width="1.38" transform="translate(205.4,0) scale(-1,1)"/>
<path d="M18.7,145.7 Q50,126 102.7,126" fill="none" stroke="#101010" stroke-width="1.5"/>
<path d="M18.7,145.7 Q50,126 102.7,126" fill="none" stroke="#101010" stroke-width="1.50" transform="translate(205.4,0) scale(-1,1)"/>
<path d="M20.8,147.1 Q55,131.3 102.7,131.3" fill="none" stroke="#101010" stroke-width="1.5"/>
<path d="M20.8,147.1 Q55,131.3 102.7,131.3" fill="none" stroke="#101010" stroke-width="1.50" transform="translate(205.4,0) scale(-1,1)"/>
<path d="M23.6,147.1 Q55,133 102.7,132.7" fill="none" stroke="#101010" stroke-width="1.25"/>
<path d="M23.6,147.1 Q55,133 102.7,132.7" fill="none" stroke="#101010" stroke-width="1.25" transform="translate(205.4,0) scale(-1,1)"/>
<path d="M23.6,147.1 L31.9,201.4 Q70,195.2 102.7,195.2" fill="none" stroke="#101010" stroke-width="1.5"/>
<path d="M23.6,147.1 L31.9,201.4 Q70,195.2 102.7,195.2" fill="none" stroke="#101010" stroke-width="1.50" transform="translate(205.4,0) scale(-1,1)"/>
<path d="M33,203.5 Q70,197 102.7,197" fill="none" stroke="#101010" stroke-width="1.25"/>
<path d="M33,203.5 Q70,197 102.7,197" fill="none" stroke="#101010" stroke-width="1.25" transform="translate(205.4,0) scale(-1,1)"/>
<path d="M12.4,156.9 Q20,185 23.5,215 Q26.4,240 26.2,341 Q24,358 12.4,366" fill="none" stroke="#101010" stroke-width="1.38"/>
<path d="M12.4,156.9 Q20,185 23.5,215 Q26.4,240 26.2,341 Q24,358 12.4,366" fill="none" stroke="#101010" stroke-width="1.38" transform="translate(205.4,0) scale(-1,1)"/>
<path d="M14.5,173.6 Q22.5,205 23.6,250" fill="none" stroke="#101010" stroke-width="1.25"/>
<path d="M14.5,173.6 Q22.5,205 23.6,250" fill="none" stroke="#101010" stroke-width="1.25" transform="translate(205.4,0) scale(-1,1)"/>
<path d="M31.9,202.8 Q33.5,225 34.7,283.6 L38.9,455.6" fill="none" stroke="#101010" stroke-width="1.5"/>
<path d="M31.9,202.8 Q33.5,225 34.7,283.6 L38.9,455.6" fill="none" stroke="#101010" stroke-width="1.50" transform="translate(205.4,0) scale(-1,1)"/>
<path d="M20.8,147.1 Q29,175 31,215 L33,284" fill="none" stroke="#101010" stroke-width="1.25"/>
<path d="M20.8,147.1 Q29,175 31,215 L33,284" fill="none" stroke="#101010" stroke-width="1.25" transform="translate(205.4,0) scale(-1,1)"/>
<path d="M34.7,283.6 H102.7" fill="none" stroke="#101010" stroke-width="1.75"/>
<path d="M34.7,283.6 H102.7" fill="none" stroke="#101010" stroke-width="1.75" transform="translate(205.4,0) scale(-1,1)"/>
<path d="M102.7,293.8 H34.9 L38.2,408.6 H102.7" fill="none" stroke="#101010" stroke-width="1.62"/>
<path d="M102.7,293.8 H34.9 L38.2,408.6 H102.7" fill="none" stroke="#101010" stroke-width="1.62" transform="translate(205.4,0) scale(-1,1)"/>
<path d="M102.7,418 H38.9 L40.3,455.4 H102.7" fill="none" stroke="#101010" stroke-width="1.62"/>
<path d="M102.7,418 H38.9 L40.3,455.4 H102.7" fill="none" stroke="#101010" stroke-width="1.62" transform="translate(205.4,0) scale(-1,1)"/>
<path d="M32.6,284.3 L37.5,455.6" fill="none" stroke="#101010" stroke-width="1.25"/>
<path d="M32.6,284.3 L37.5,455.6" fill="none" stroke="#101010" stroke-width="1.25" transform="translate(205.4,0) scale(-1,1)"/>
<path d="M102.7,456.8 H34.7 L18,474.4" fill="none" stroke="#101010" stroke-width="1.38"/>
<path d="M102.7,456.8 H34.7 L18,474.4" fill="none" stroke="#101010" stroke-width="1.38" transform="translate(205.4,0) scale(-1,1)"/>
<path d="M35.4,482.1 Q38,473 44.5,471.6 Q75,473.5 102.7,473.5" fill="none" stroke="#101010" stroke-width="1.5"/>
<path d="M35.4,482.1 Q38,473 44.5,471.6 Q75,473.5 102.7,473.5" fill="none" stroke="#101010" stroke-width="1.50" transform="translate(205.4,0) scale(-1,1)"/>
<path d="M24.3,376.2 Q14.5,398 14.5,408.3 L15.9,466.8 L25.7,458.4 V378 Q25.7,375 24.3,376.2" fill="none" stroke="#101010" stroke-width="1.5"/>
<path d="M24.3,376.2 Q14.5,398 14.5,408.3 L15.9,466.8 L25.7,458.4 V378 Q25.7,375 24.3,376.2" fill="none" stroke="#101010" stroke-width="1.50" transform="translate(205.4,0) scale(-1,1)"/>
<path d="M13.1,264.8 L25,271.8 M13.1,271 L31,279 M13.1,333.8 L23.6,340" fill="none" stroke="#101010" stroke-width="1.25"/>
<path d="M13.1,264.8 L25,271.8 M13.1,271 L31,279 M13.1,333.8 L23.6,340" fill="none" stroke="#101010" stroke-width="1.25" transform="translate(205.4,0) scale(-1,1)"/>
<path d="M6.9,342.8 Q2.5,355 3.4,363.7 Q5,369.5 7.6,369.3 L12.4,368.6" fill="none" stroke="#101010" stroke-width="1.25"/>
<path d="M6.9,342.8 Q2.5,355 3.4,363.7 Q5,369.5 7.6,369.3 L12.4,368.6" fill="none" stroke="#101010" stroke-width="1.25" transform="translate(205.4,0) scale(-1,1)"/>
</g>
<line x1="542.5" y1="702.9" x2="542.5" y2="735.5" stroke="#111" stroke-width="1.6"/>
<line x1="657.4" y1="702.9" x2="657.4" y2="735.5" stroke="#111" stroke-width="1.6"/>
<line x1="476.7" y1="722.6" x2="520" y2="722.6" stroke="#111" stroke-width="1.6"/>
<polygon points="542.5,722.6 509,727.9 509,717.3" fill="#111" stroke="none" stroke-width="0"/>
<line x1="680" y1="722.6" x2="722.9" y2="722.6" stroke="#111" stroke-width="1.6"/>
<polygon points="658.4,722.6 691.9,717.3 691.9,727.9" fill="#111" stroke="none" stroke-width="0"/>
<line x1="690.6" y1="768.4" x2="770.3" y2="768.4" stroke="#111" stroke-width="1.6"/>
<line x1="690.6" y1="1009" x2="770.3" y2="1009" stroke="#111" stroke-width="1.6"/>
<line x1="750.7" y1="790" x2="750.7" y2="990" stroke="#111" stroke-width="1.6"/>
<polygon points="750.7,768.8 756.4,802.8 745,802.8" fill="#111" stroke="none" stroke-width="0"/>
<polygon points="750.7,1008.6 745,974.6 756.4,974.6" fill="#111" stroke="none" stroke-width="0"/>
<line x1="1709.8" y1="127.8" x2="1842.6" y2="127.8" stroke="#111" stroke-width="1.6"/>
<line x1="1759" y1="1853.6" x2="1842.6" y2="1853.6" stroke="#111" stroke-width="1.6"/>
<line x1="1822.4" y1="150" x2="1822.4" y2="1830" stroke="#111" stroke-width="1.6"/>
<polygon points="1822.4,127.8 1827.7,161.8 1817.1,161.8" fill="#111" stroke="none" stroke-width="0"/>
<polygon points="1822.4,1853.4 1817.1,1819.4 1827.7,1819.4" fill="#111" stroke="none" stroke-width="0"/>
<line x1="82.6" y1="1888" x2="82.6" y2="2096.5" stroke="#111" stroke-width="1.6"/>
<line x1="1726.2" y1="1888" x2="1726.2" y2="2096.5" stroke="#111" stroke-width="1.6"/>
<line x1="100" y1="2077.5" x2="1710" y2="2077.5" stroke="#111" stroke-width="1.6"/>
<polygon points="83,2077.5 117,2072.2 117,2082.8" fill="#111" stroke="none" stroke-width="0"/>
<polygon points="1725.8,2077.5 1691.8,2082.8 1691.8,2072.2" fill="#111" stroke="none" stroke-width="0"/>
<g opacity="0.999">
<text transform="translate(229.39,490.5) scale(1.0153,1)" font-family="'Liberation Sans',sans-serif" font-size="39.6" font-weight="700" fill="#0d0d0d">GRILL</text>
<text transform="translate(216.38,535.5) scale(1.0195,1)" font-family="'Liberation Sans',sans-serif" font-size="39.6" font-weight="700" fill="#0d0d0d">PORCH</text>
<text transform="translate(224.59,584) scale(1.0166,1)" font-family="'Liberation Sans',sans-serif" font-size="39.6" font-weight="700" fill="#0d0d0d">8 x 12</text>
<text transform="translate(511.5,382.9) scale(1.0101,1)" font-family="'Liberation Sans',sans-serif" font-size="39.6" font-weight="700" fill="#0d0d0d">fp</text>
<text transform="translate(725.94,329.4) scale(1.0545,1)" font-family="'Liberation Sans',sans-serif" font-size="39.6" font-weight="700" fill="#0d0d0d">9’ clg.</text>
<text transform="translate(713.67,407) scale(1.0303,1)" font-family="'Liberation Sans',sans-serif" font-size="39.6" font-weight="700" fill="#0d0d0d">GREAT</text>
<text transform="translate(720.57,451.3) scale(1.0237,1)" font-family="'Liberation Sans',sans-serif" font-size="39.6" font-weight="700" fill="#0d0d0d">ROOM</text>
<text transform="translate(697.17,499.5) scale(1.0217,1)" font-family="'Liberation Sans',sans-serif" font-size="39.6" font-weight="700" fill="#0d0d0d">17-6 x 19</text>
<text transform="translate(1219.86,203.8) scale(1.0050,1)" font-family="'Liberation Sans',sans-serif" font-size="32.7" font-weight="400" fill="#0d0d0d" stroke="#0d0d0d" stroke-width="0.5">Copyright By Designer</text>
<text transform="translate(1173.52,243.4) scale(1.0109,1)" font-family="'Liberation Sans',sans-serif" font-size="32.7" font-weight="400" fill="#0d0d0d" stroke="#0d0d0d" stroke-width="0.5">Unauthorized Use Prohibited</text>
<text transform="translate(1246.36,311.2) scale(1.0243,1)" font-family="'Liberation Sans',sans-serif" font-size="39.6" font-weight="700" fill="#0d0d0d">REAR PORCH</text>
<text transform="translate(1320.8,354) scale(1.0120,1)" font-family="'Liberation Sans',sans-serif" font-size="39.6" font-weight="700" fill="#0d0d0d">8 x 18</text>
<text transform="translate(1476.04,457) scale(1.0554,1)" font-family="'Liberation Sans',sans-serif" font-size="39.6" font-weight="700" fill="#0d0d0d">9’ clg.</text>
<text transform="translate(1149.5,533.1) scale(0.9969,1)" font-family="'Liberation Sans',sans-serif" font-size="39.6" font-weight="700" fill="#0d0d0d">WIC</text>
<text transform="translate(1128.8,578.6) scale(1.0117,1)" font-family="'Liberation Sans',sans-serif" font-size="39.6" font-weight="700" fill="#0d0d0d">6 x 8-4</text>
<text transform="translate(1426.24,578.6) scale(1.0332,1)" font-family="'Liberation Sans',sans-serif" font-size="39.6" font-weight="700" fill="#0d0d0d">PRIMARY</text>
<text transform="translate(1461.59,623) scale(1.0154,1)" font-family="'Liberation Sans',sans-serif" font-size="39.6" font-weight="700" fill="#0d0d0d">SUITE</text>
<text transform="translate(1426.49,668) scale(1.0138,1)" font-family="'Liberation Sans',sans-serif" font-size="39.6" font-weight="700" fill="#0d0d0d">12-4 x 13</text>
<text transform="translate(556.1,703.4) scale(1.1199,1)" font-family="'DejaVu Sans',sans-serif" font-size="34.5" font-weight="400" fill="#0d0d0d">3'-6&quot;</text>
<text transform="translate(853.35,746.8) scale(1.0450,1)" font-family="'Liberation Sans',sans-serif" font-size="39.6" font-weight="700" fill="#0d0d0d">9’ clg.</text>
<text transform="translate(828.64,872) scale(1.0341,1)" font-family="'Liberation Sans',sans-serif" font-size="39.6" font-weight="700" fill="#0d0d0d">DINING</text>
<text transform="translate(832.36,935.3) scale(1.0251,1)" font-family="'Liberation Sans',sans-serif" font-size="39.6" font-weight="700" fill="#0d0d0d">10 x 11</text>
<text transform="translate(731.5,933.24) rotate(-90) scale(1.1026,1)" font-family="'DejaVu Sans',sans-serif" font-size="34.5" font-weight="400" fill="#0d0d0d">7'-4&quot;</text>
<text transform="translate(1573.29,876.9) scale(1.0200,1)" font-family="'Liberation Sans',sans-serif" font-size="39.6" font-weight="700" fill="#0d0d0d">P.</text>
<text transform="translate(1534.01,921.3) scale(1.0455,1)" font-family="'Liberation Sans',sans-serif" font-size="39.6" font-weight="700" fill="#0d0d0d">BATH</text>
<text transform="translate(140.9,1006) scale(1.0200,1)" font-family="'Liberation Sans',sans-serif" font-size="39.6" font-weight="700" fill="#0d0d0d">w</text>
<text transform="translate(147.97,1089.6) scale(1.0301,1)" font-family="'Liberation Sans',sans-serif" font-size="39.6" font-weight="700" fill="#0d0d0d">d</text>
<text transform="translate(224.46,1034.8) scale(1.0268,1)" font-family="'Liberation Sans',sans-serif" font-size="39.6" font-weight="700" fill="#0d0d0d">MUD.</text>
<text transform="translate(239.12,1079.5) scale(1.0413,1)" font-family="'Liberation Sans',sans-serif" font-size="39.6" font-weight="700" fill="#0d0d0d">RM.</text>
<text transform="translate(521.38,1051.3) scale(1.0165,1)" font-family="'Liberation Sans',sans-serif" font-size="39.6" font-weight="700" fill="#0d0d0d">KITCHEN</text>
<text transform="translate(496.1,1092.1) scale(1.0116,1)" font-family="'Liberation Sans',sans-serif" font-size="39.6" font-weight="700" fill="#0d0d0d">12-6 x 12-6</text>
<text transform="translate(360.08,1249.8) scale(1.0217,1)" font-family="'Liberation Sans',sans-serif" font-size="39.6" font-weight="700" fill="#0d0d0d">2-CAR GARAGE</text>
<text transform="translate(447.43,1296.4) scale(0.9877,1)" font-family="'Liberation Sans',sans-serif" font-size="39.6" font-weight="700" fill="#0d0d0d">20 x 21</text>
<text transform="translate(881.79,1257.8) scale(1.0146,1)" font-family="'Liberation Sans',sans-serif" font-size="39.6" font-weight="700" fill="#0d0d0d">FOYER</text>
<text transform="translate(877.8,1303.2) scale(1.0129,1)" font-family="'Liberation Sans',sans-serif" font-size="39.6" font-weight="700" fill="#0d0d0d">8-6 x 10</text>
<text transform="translate(1418.28,1155.1) scale(1.0170,1)" font-family="'Liberation Sans',sans-serif" font-size="39.6" font-weight="700" fill="#0d0d0d">BEDROOM</text>
<text transform="translate(1461.77,1201.1) scale(1.0214,1)" font-family="'Liberation Sans',sans-serif" font-size="39.6" font-weight="700" fill="#0d0d0d">11 x 11</text>
<text transform="translate(1506.75,1318) scale(1.0479,1)" font-family="'Liberation Sans',sans-serif" font-size="39.6" font-weight="700" fill="#0d0d0d">9’ clg.</text>
<text transform="translate(933.9,1563) scale(1.0116,1)" font-family="'Liberation Sans',sans-serif" font-size="39.6" font-weight="700" fill="#0d0d0d">FRONT</text>
<text transform="translate(930.68,1608.5) scale(1.0166,1)" font-family="'Liberation Sans',sans-serif" font-size="39.6" font-weight="700" fill="#0d0d0d">PORCH</text>
<text transform="translate(949.19,1647.3) scale(1.0166,1)" font-family="'Liberation Sans',sans-serif" font-size="39.6" font-weight="700" fill="#0d0d0d">8 x 12</text>
<text transform="translate(1402.77,1649) scale(1.0200,1)" font-family="'Liberation Sans',sans-serif" font-size="39.6" font-weight="700" fill="#0d0d0d">BEDROOM</text>
<text transform="translate(1431.73,1690.3) scale(1.0411,1)" font-family="'Liberation Sans',sans-serif" font-size="39.6" font-weight="700" fill="#0d0d0d">11 x 12</text>
<text transform="translate(1483.13,1810.3) scale(1.0582,1)" font-family="'Liberation Sans',sans-serif" font-size="39.6" font-weight="700" fill="#0d0d0d">9’ clg.</text>
<text transform="translate(1287.41,1936.8) scale(1.0317,1)" font-family="'Liberation Sans',sans-serif" font-size="53.5" font-weight="700" fill="#0d0d0d">FIRST FLOOR</text>
<text transform="translate(1323.2,2001) scale(1.0291,1)" font-family="'Liberation Sans',sans-serif" font-size="53.5" font-weight="700" fill="#0d0d0d">1,701 sq. ft.</text>
<text transform="translate(832.5,2061.5) scale(1.0382,1)" font-family="'DejaVu Sans',sans-serif" font-size="47.5" font-weight="400" fill="#0d0d0d">50'-0&quot;</text>
<text transform="translate(1807.6,1060.2) rotate(-90) scale(1.0099,1)" font-family="'DejaVu Sans',sans-serif" font-size="47.5" font-weight="400" fill="#0d0d0d">52'-6&quot;</text>
</g>
</svg>
</body></html>
